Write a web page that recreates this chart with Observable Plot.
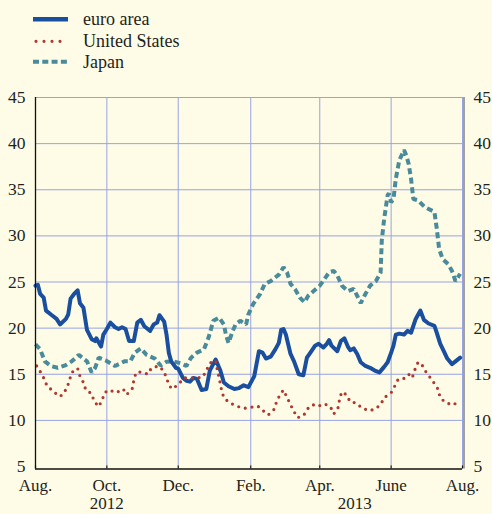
<!DOCTYPE html>
<html>
<head>
<meta charset="utf-8">
<script src="https://cdn.jsdelivr.net/npm/d3@7"></script>
<script src="https://cdn.jsdelivr.net/npm/@observablehq/plot@0.6"></script>
<style>
  html, body { margin: 0; padding: 0; background: #fefce6; }
  #wrap { position: relative; width: 492px; height: 514px; background: #fefce6; overflow: hidden; }
  #legend { position: absolute; left: 0; top: 0; }
  #chart { position: absolute; left: 0; top: 0; }
  svg text { font-family: "Liberation Serif", "DejaVu Serif", serif; }
</style>
</head>
<body>
<div id="wrap"><div id="chart"></div><div id="legend"></div></div>
<script>
// ---------- data ----------
const seriesNames = ["euro area", "United States", "Japan"];
const seriesColors = ["#1a4f9f", "#b0382f", "#4a8b9b"];

const euroArea = [
  ["2012-08-01",24.6],["2012-08-03",24.7],["2012-08-05",23.7],["2012-08-08",23.3],["2012-08-10",21.9],
  ["2012-08-15",21.4],["2012-08-19",21.0],["2012-08-22",20.4],["2012-08-27",21.0],["2012-08-29",21.5],
  ["2012-08-31",23.2],["2012-09-03",23.7],["2012-09-06",24.1],["2012-09-08",22.7],["2012-09-11",22.2],
  ["2012-09-14",19.8],["2012-09-18",18.8],["2012-09-21",18.6],["2012-09-22",18.9],["2012-09-26",18.0],
  ["2012-09-28",19.3],["2012-10-01",19.9],["2012-10-04",20.6],["2012-10-08",20.1],["2012-10-11",19.9],
  ["2012-10-14",20.1],["2012-10-17",19.9],["2012-10-20",18.6],["2012-10-24",18.6],["2012-10-27",20.6],
  ["2012-10-30",20.9],["2012-11-02",20.2],["2012-11-07",19.7],["2012-11-10",20.4],["2012-11-13",20.6],
  ["2012-11-15",21.4],["2012-11-19",20.7],["2012-11-21",19.3],["2012-11-23",17.3],["2012-11-25",16.4],
  ["2012-11-29",15.7],["2012-12-01",15.6],["2012-12-05",14.6],["2012-12-08",14.3],["2012-12-11",14.2],
  ["2012-12-14",14.6],["2012-12-17",14.5],["2012-12-21",13.3],["2012-12-25",13.4],["2012-12-28",15.4],
  ["2013-01-02",16.6],["2013-01-06",15.4],["2013-01-09",14.1],["2013-01-13",13.7],["2013-01-18",13.4],
  ["2013-01-22",13.5],["2013-01-26",13.8],["2013-01-30",13.6],["2013-02-04",14.8],["2013-02-08",17.5],
  ["2013-02-11",17.35],["2013-02-14",16.7],["2013-02-18",16.9],["2013-02-22",17.7],["2013-02-25",18.4],
  ["2013-02-27",19.8],["2013-03-01",19.9],["2013-03-03",19.3],["2013-03-07",17.2],["2013-03-10",16.4],
  ["2013-03-14",15.0],["2013-03-18",14.9],["2013-03-21",16.8],["2013-03-24",17.35],["2013-03-28",18.1],
  ["2013-03-31",18.3],["2013-04-04",17.9],["2013-04-07",18.3],["2013-04-09",18.7],["2013-04-11",18.1],
  ["2013-04-16",17.5],["2013-04-19",18.6],["2013-04-22",18.9],["2013-04-25",18.0],["2013-04-27",17.6],
  ["2013-04-30",17.8],["2013-05-03",17.2],["2013-05-06",16.3],["2013-05-10",15.9],["2013-05-14",15.7],
  ["2013-05-18",15.4],["2013-05-22",15.2],["2013-05-26",15.8],["2013-05-29",16.3],["2013-06-01",17.35],
  ["2013-06-03",18.1],["2013-06-05",19.3],["2013-06-08",19.4],["2013-06-12",19.3],["2013-06-15",19.7],
  ["2013-06-18",19.5],["2013-06-22",21.0],["2013-06-26",21.9],["2013-06-29",20.9],["2013-07-03",20.5],
  ["2013-07-08",20.25],["2013-07-10",19.5],["2013-07-13",18.3],["2013-07-16",17.5],["2013-07-19",16.7],
  ["2013-07-23",16.1],["2013-07-26",16.4],["2013-07-30",16.8]
];

const unitedStates = [
  ["2012-08-02",15.9],["2012-08-05",15.3],["2012-08-08",14.6],["2012-08-11",13.7],["2012-08-16",13.2],
  ["2012-08-21",12.6],["2012-08-24",12.75],["2012-08-28",13.55],["2012-08-30",14.35],["2012-09-01",15.2],
  ["2012-09-06",15.65],["2012-09-08",14.8],["2012-09-11",14.1],["2012-09-13",13.3],["2012-09-18",12.9],
  ["2012-09-20",12.1],["2012-09-24",11.5],["2012-09-27",12.2],["2012-09-29",13.0],["2012-10-03",13.3],
  ["2012-10-09",13.0],["2012-10-15",13.4],["2012-10-18",12.8],["2012-10-23",13.5],["2012-10-24",14.35],
  ["2012-10-26",15.2],["2012-10-31",15.25],["2012-11-05",15.0],["2012-11-08",15.65],["2012-11-14",15.9],
  ["2012-11-18",15.45],["2012-11-21",14.65],["2012-11-23",13.8],["2012-11-26",13.4],["2012-12-01",13.9],
  ["2012-12-06",14.6],["2012-12-11",14.6],["2012-12-17",14.6],["2012-12-22",14.7],["2012-12-25",15.4],
  ["2012-12-28",16.2],["2013-01-02",16.5],["2013-01-03",15.7],["2013-01-05",14.6],["2013-01-07",13.3],
  ["2013-01-09",12.45],["2013-01-14",11.9],["2013-01-20",11.55],["2013-01-26",11.3],["2013-01-31",11.4],
  ["2013-02-07",11.55],["2013-02-12",11.0],["2013-02-16",10.6],["2013-02-21",11.2],["2013-02-23",12.0],
  ["2013-02-26",12.8],["2013-03-01",13.3],["2013-03-04",12.5],["2013-03-07",11.7],["2013-03-10",10.95],
  ["2013-03-13",10.3],["2013-03-18",10.5],["2013-03-22",11.3],["2013-03-26",11.7],["2013-03-30",11.5],
  ["2013-04-05",11.8],["2013-04-10",11.5],["2013-04-13",10.7],["2013-04-17",11.45],["2013-04-18",12.45],
  ["2013-04-20",13.1],["2013-04-24",12.75],["2013-04-27",12.0],["2013-05-02",11.9],["2013-05-07",11.35],
  ["2013-05-13",11.05],["2013-05-18",11.2],["2013-05-23",11.7],["2013-05-26",12.45],["2013-06-01",13.0],
  ["2013-06-04",13.7],["2013-06-07",14.45],["2013-06-12",14.55],["2013-06-16",15.0],["2013-06-19",14.6],
  ["2013-06-21",15.4],["2013-06-24",16.3],["2013-06-27",16.1],["2013-06-30",15.4],["2013-07-04",14.7],
  ["2013-07-08",14.0],["2013-07-11",13.4],["2013-07-13",12.45],["2013-07-17",12.0],["2013-07-23",11.65],
  ["2013-07-29",12.0]
];

const japan = [
  ["2012-08-01",18.25],["2012-08-05",17.7],["2012-08-09",16.4],["2012-08-14",15.9],["2012-08-20",15.7],
  ["2012-08-27",16.0],["2012-09-01",16.4],["2012-09-07",17.1],["2012-09-14",16.4],["2012-09-18",15.2],
  ["2012-09-21",15.7],["2012-09-24",16.8],["2012-09-30",16.5],["2012-10-08",15.9],["2012-10-16",16.4],
  ["2012-10-21",16.4],["2012-10-25",17.35],["2012-10-30",17.8],["2012-11-04",17.1],["2012-11-11",16.7],
  ["2012-11-16",15.95],["2012-11-21",16.35],["2012-11-27",16.4],["2012-12-03",16.2],["2012-12-08",15.9],
  ["2012-12-12",16.8],["2012-12-17",17.35],["2012-12-23",17.7],["2012-12-27",19.0],["2012-12-31",20.8],
  ["2013-01-05",21.15],["2013-01-09",20.4],["2013-01-11",19.15],["2013-01-13",18.4],["2013-01-16",19.5],
  ["2013-01-19",20.4],["2013-01-23",20.8],["2013-01-28",20.4],["2013-01-30",21.5],["2013-02-03",22.6],
  ["2013-02-09",23.7],["2013-02-13",24.8],["2013-02-18",25.1],["2013-02-25",25.8],["2013-03-01",26.6],
  ["2013-03-04",26.05],["2013-03-07",24.8],["2013-03-11",24.2],["2013-03-15",23.3],["2013-03-19",22.8],
  ["2013-03-22",23.5],["2013-03-27",24.05],["2013-04-01",24.6],["2013-04-06",25.5],["2013-04-09",26.05],
  ["2013-04-13",26.2],["2013-04-16",25.7],["2013-04-20",24.6],["2013-04-25",24.0],["2013-04-30",24.25],
  ["2013-05-03",23.5],["2013-05-06",22.7],["2013-05-10",23.7],["2013-05-14",24.6],["2013-05-19",25.1],
  ["2013-05-23",26.0],["2013-05-24",29.5],["2013-05-26",31.8],["2013-05-29",34.4],["2013-05-30",34.6],
  ["2013-06-01",33.65],["2013-06-03",34.0],["2013-06-05",36.2],["2013-06-08",38.2],["2013-06-12",39.3],
  ["2013-06-14",38.7],["2013-06-16",37.8],["2013-06-18",36.2],["2013-06-20",34.0],["2013-06-24",33.85],
  ["2013-06-30",33.1],["2013-07-08",32.6],["2013-07-10",30.8],["2013-07-12",28.6],["2013-07-15",27.5],
  ["2013-07-20",26.9],["2013-07-23",26.2],["2013-07-26",25.1],["2013-07-29",25.7],["2013-07-30",25.9]
];

const yTicks = [5, 10, 15, 20, 25, 30, 35, 40, 45];
const xDomain = ["2012-08-01", "2013-08-01"];
const monthTicks = ["2012-08-01","2012-10-01","2012-12-01","2013-02-01","2013-04-01","2013-06-01","2013-08-01"];
const monthTickLabels = ["Aug.", "Oct.", "Dec.", "Feb.", "Apr.", "June", "Aug."];
const yearLabelDates = ["2012-10-01", "2013-05-01"];
const yearLabels = ["2012", "2013"];

// ---------- build ----------
const parse = d3.utcParse("%Y-%m-%d");
const toRows = (arr) => arr.map(([d, v]) => ({date: parse(d), value: v}));
const euroRows = toRows(euroArea);
const usRows = toRows(unitedStates);
const jpRows = toRows(japan);
const tickDates = monthTicks.map(parse);
const labelByTime = new Map(tickDates.map((d, i) => [+d, monthTickLabels[i]]));
const years = yearLabelDates.map((d, i) => ({date: parse(d), label: yearLabels[i]}));
const gridColor = "#97a3e3";
const textColor = "#231f20";
const font = '"Liberation Serif", "DejaVu Serif", serif';

const chart = Plot.plot({
  width: 492,
  height: 514,
  marginTop: 97,
  marginBottom: 48,
  marginLeft: 35,
  marginRight: 30,
  style: {background: "transparent", fontFamily: font, color: textColor, overflow: "visible"},
  x: {type: "utc", domain: xDomain.map(parse)},
  y: {domain: [5, 45]},
  marks: [
    Plot.ruleY(yTicks.filter(v => v > 5), {stroke: gridColor, strokeWidth: 1}),
    Plot.ruleX(tickDates.slice(1), {stroke: gridColor, strokeWidth: 1}),
    Plot.line(jpRows, {x: "date", y: "value", stroke: seriesColors[2], strokeWidth: 4, strokeDasharray: "6,3.6", strokeLinecap: "butt", strokeLinejoin: "miter"}),
    Plot.line(euroRows, {x: "date", y: "value", stroke: seriesColors[0], strokeWidth: 4, strokeLinejoin: "round"}),
    Plot.line(usRows, {x: "date", y: "value", stroke: seriesColors[1], strokeWidth: 3.2, strokeDasharray: "0,6.8", strokeLinecap: "round"}),
    Plot.ruleX(tickDates.slice(0, 1), {stroke: "#111", strokeWidth: 1.3, insetBottom: -2.5}),
    Plot.ruleX(tickDates.slice(-1), {stroke: "#666", strokeWidth: 1.2, dx: 1.5, insetBottom: -2.5}),
    Plot.ruleY([5], {stroke: "#111", strokeWidth: 1.3, dy: 2.5}),
    Plot.ruleX(tickDates, {y1: 5, y2: 5, dy: 2.5, insetTop: -3, stroke: "#111", strokeWidth: 1.2}),
    Plot.axisY(yTicks, {anchor: "left", tickSize: 0, tickPadding: 10, fontSize: 17.5, fill: textColor, label: null}),
    Plot.axisY(yTicks, {anchor: "right", tickSize: 0, tickPadding: 11, fontSize: 17.5, fill: textColor, label: null}),
    Plot.axisX(tickDates, {anchor: "bottom", tickSize: 0, tickPadding: 12, fontSize: 17, fill: textColor,
      tickFormat: d => labelByTime.get(+d), label: null}),
    Plot.text(years, {x: "date", text: "label", frameAnchor: "bottom", dy: 42, fontSize: 17, fill: textColor})
  ]
});
document.getElementById("chart").appendChild(chart);

// ---------- legend (real text, drawn with d3) ----------
const legendRows = [
  {name: seriesNames[0], color: seriesColors[0], width: 4.5, dash: null, cap: "butt", y: 19.3},
  {name: seriesNames[1], color: seriesColors[1], width: 3.2, dash: "0,8", cap: "round", y: 41.3},
  {name: seriesNames[2], color: seriesColors[2], width: 4, dash: "6,3.3", cap: "butt", y: 61.7}
];
const leg = d3.select("#legend").append("svg").attr("width", 260).attr("height", 80)
  .style("font-family", font).style("font-size", "18px");
const g = leg.selectAll("g").data(legendRows).join("g");
g.append("line")
  .attr("x1", d => d.cap === "round" ? 36 : 33).attr("x2", 68)
  .attr("y1", d => d.y).attr("y2", d => d.y)
  .attr("stroke", d => d.color).attr("stroke-width", d => d.width)
  .attr("stroke-dasharray", d => d.dash).attr("stroke-linecap", d => d.cap);
g.append("text").attr("x", 83).attr("y", d => d.y + 6).attr("fill", textColor).text(d => d.name);
</script>
</body>
</html>
